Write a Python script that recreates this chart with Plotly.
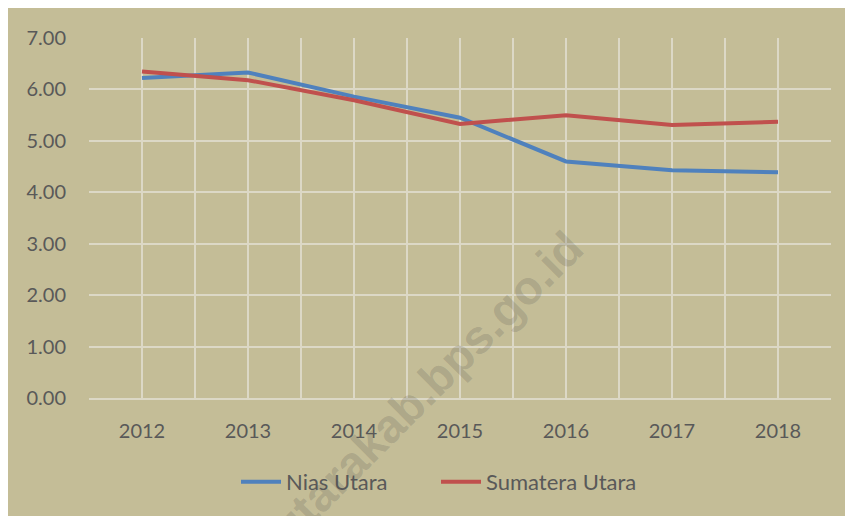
import plotly.graph_objects as go

years = [2012, 2013, 2014, 2015, 2016, 2017, 2018]
nias_utara = [6.22, 6.33, 5.86, 5.45, 4.60, 4.43, 4.39]
sumatera_utara = [6.35, 6.18, 5.79, 5.33, 5.50, 5.31, 5.37]
y_ticks = [0, 1, 2, 3, 4, 5, 6, 7]

bg = "#C4BD97"
grid = "#DCD8C6"
txt = "#595959"

# the page body adds 8px around the figure; the chart is cut on the right and bottom
W, H = 853, 516
off = 8
ml, mt = 89 - off, 38 - off
pw, ph = 742, 360
mr, mb = W - ml - pw, H - mt - ph

def px_x(px):
    return (px - off - ml) / pw

def px_y(py):
    return (H - mb - (py - off)) / ph

fig = go.Figure()
fig.add_trace(go.Scatter(x=years, y=nias_utara, mode='lines', name='Nias Utara',
                         line=dict(width=4, color='#4F81BD')))
fig.add_trace(go.Scatter(x=years, y=sumatera_utara, mode='lines', name='Sumatera Utara',
                         line=dict(width=4, color='#C0504D')))

fig.update_xaxes(range=[2011.5, 2018.5], tickmode='linear', tick0=2012, dtick=1,
                 showgrid=True, gridcolor=grid, gridwidth=1.5,
                 minor=dict(tick0=2011.5, dtick=1, showgrid=True, gridcolor=grid, gridwidth=1.5),
                 showline=True, linecolor=grid, linewidth=2,
                 zeroline=False, ticks='', ticklabelstandoff=14,
                 tickfont=dict(family='Lato', size=20, color=txt))
fig.update_yaxes(range=[0, 7], tickvals=y_ticks, tickformat='.2f',
                 showgrid=True, gridcolor=grid, gridwidth=1.5,
                 zeroline=False, ticks='', ticklabelstandoff=22,
                 tickfont=dict(family='Lato', size=20, color=txt))

# watermark
fig.add_annotation(text='niasutarakab.bps.go.id', xref='paper', yref='paper',
                   x=px_x(393), y=px_y(420), xanchor='center', yanchor='middle',
                   textangle=-45, showarrow=False,
                   font=dict(family='Liberation Sans', size=47, color='rgba(80,80,80,0.21)', weight='bold'))

fig.update_layout(width=W, height=H, margin=dict(l=ml, r=mr, t=mt, b=mb),
                  plot_bgcolor=bg, paper_bgcolor=bg,
                  showlegend=True,
                  legend=dict(orientation='h', xanchor='left', x=px_x(236), yanchor='middle', y=px_y(482),
                              font=dict(family='Lato', size=22, color=txt), bgcolor='rgba(0,0,0,0)',
                              itemwidth=40, entrywidth=145))
fig.write_html("out.html")
